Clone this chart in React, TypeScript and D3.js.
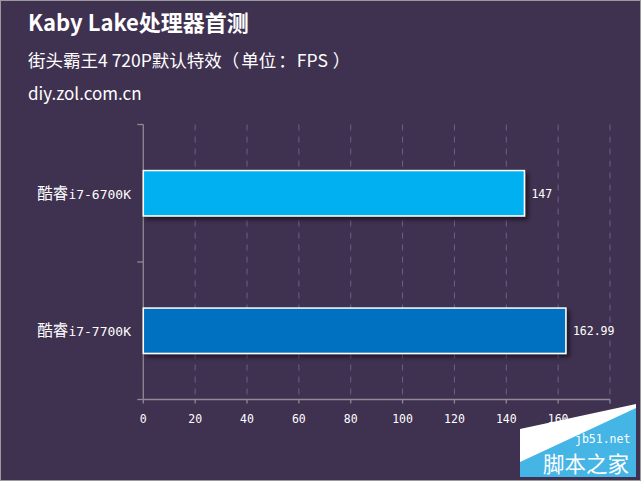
import React from "react";
import * as d3 from "d3";

const categoryPrefix = ["酷睿", "酷睿"];
const categoryModel = ["i7-6700K", "i7-7700K"];
const categories = categoryPrefix.map((p, i) => p + categoryModel[i]);
const values = [147, 162.99];
const valueLabels = ["147", "162.99"];
const barColors = ["#00b0f0", "#0070c0"];
const xTicks = [0, 20, 40, 60, 80, 100, 120, 140, 160, 180];
const title = "Kaby Lake处理器首测";
const subtitleParts = ["街头霸王4 720P默认特效", "（", "单位", "：", "FPS", "）"];
const source = "diy.zol.com.cn";

const W = 641;
const H = 481;
const BG = "#3f3150";
const AXIS = "#8e8a96";
const GRID = "#6e5f88";
const MONO = "'DejaVu Sans Mono', 'Liberation Mono', monospace";
const SANS = "'Noto Sans CJK SC', 'Noto Sans', sans-serif";

export default function App() {
  const x = d3.scaleLinear().domain([0, 180]).range([143.3, 610]);
  const y = d3.scaleBand().domain(categories).range([124.5, 399.5]).paddingInner(0.67).paddingOuter(0.335);
  const left = x(0);
  const bottom = 399.5;
  const top = 124.5;
  const bandStep = (bottom - top) / categories.length;
  const yTickPos = d3.range(categories.length + 1).map((i) => top + i * bandStep);

  return (
    <svg width={W} height={H} style={{ position: "absolute", left: 0, top: 0, display: "block" }}>
      <defs>
        <filter id="sh" x="-10%" y="-20%" width="130%" height="160%">
          <feDropShadow dx="3" dy="3" stdDeviation="2" floodColor="#000" floodOpacity="0.55" />
        </filter>
      </defs>
      <rect x={0.5} y={0.5} width={W - 1} height={H - 1} fill={BG} stroke="#9a9a9a" strokeWidth={1} />
      <text x={28} y={31} fill="#fff" fontFamily={SANS} fontWeight="bold" fontSize={22}>{title}</text>
      <text x={28} y={67} fill="#fff" fontFamily={SANS} fontSize={17.5}>
        <tspan>{subtitleParts[0]}</tspan>
        <tspan dx={0}>{subtitleParts[1]}</tspan>
        <tspan dx={2}>{subtitleParts[2]}</tspan>
        <tspan dx={2}>{subtitleParts[3]}</tspan>
        <tspan dx={1}>{subtitleParts[4]}</tspan>
        <tspan dx={5}>{subtitleParts[5]}</tspan>
      </text>
      <text x={28} y={100} fill="#fff" fontFamily={SANS} fontSize={17}>{source}</text>

      {xTicks.filter((t) => t > 0).map((t) => (
        <line key={"g" + t} x1={x(t)} x2={x(t)} y1={top} y2={bottom} stroke={GRID} strokeWidth={1} strokeDasharray="6,6" />
      ))}

      <line x1={left} x2={left} y1={top} y2={bottom} stroke={AXIS} strokeWidth={1.3} />
      {yTickPos.map((p, i) => (
        <line key={"yt" + i} x1={left - 6} x2={left} y1={p} y2={p} stroke={AXIS} strokeWidth={1.3} />
      ))}
      <line x1={left} x2={x(180)} y1={bottom} y2={bottom} stroke={AXIS} strokeWidth={1.3} />
      {xTicks.map((t) => (
        <g key={"xt" + t}>
          <line x1={x(t)} x2={x(t)} y1={bottom} y2={bottom + 4} stroke={AXIS} strokeWidth={1.3} />
          <text x={x(t)} y={423} textAnchor="middle" fill="#fff" fontFamily={MONO} fontSize={11.5}>{t}</text>
        </g>
      ))}

      {categories.map((c, i) => {
        const yy = y(c)!;
        const bh = y.bandwidth();
        return (
          <g key={c}>
            <rect x={left} y={yy} width={x(values[i]) - left} height={bh} fill={barColors[i]} stroke="#fff" strokeWidth={1.5} filter="url(#sh)" />
            <text x={x(values[i]) + 7} y={yy + bh / 2 + 4.5} fill="#fff" fontFamily={MONO} fontSize={11.5}>{valueLabels[i]}</text>
            <text x={131} y={yy + bh / 2 + 5.5} textAnchor="end" fill="#fff">
              <tspan fontFamily={SANS} fontSize={15.5}>{categoryPrefix[i]}</tspan>
              <tspan fontFamily={MONO} fontSize={13}>{categoryModel[i]}</tspan>
            </text>
          </g>
        );
      })}

      <polygon points="520,429 636,404 636,477 520,477" fill="#ffffff" />
      <polygon points="520,462 636,408 636,477 520,477" fill="#45b5e6" />
      <text x={575} y={443} fill="#fff" fontFamily={MONO} fontSize={11.5}>jb51.net</text>
      <text x={543} y={472} fill="#fff" fontFamily={SANS} fontSize={21.5}>脚本之家</text>
    </svg>
  );
}
